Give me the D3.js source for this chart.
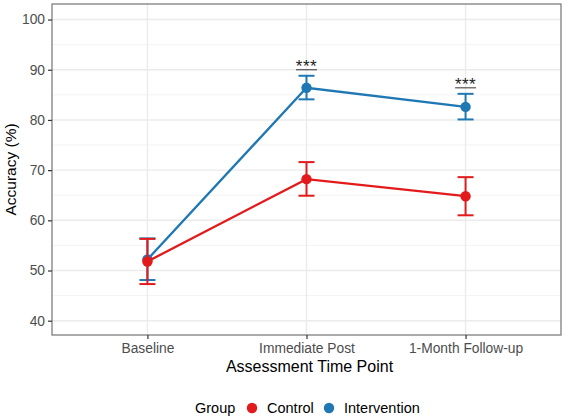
<!DOCTYPE html>
<html>
<head>
<meta charset="utf-8">
<script src="https://cdn.jsdelivr.net/npm/d3@7"></script>
<style>
  body { margin: 0; background: #fff; }
  text { font-family: "Liberation Sans", Arial, sans-serif; }
</style>
</head>
<body>
<div id="chart"></div>
<script>
"use strict"

// time points on the x axis
let timePoints = ["Baseline", "Immediate Post", "1-Month Follow-up"];
let groups = ["Control", "Intervention"];

// means and error bars
let controlMean = [51.8, 68.2, 64.8];
let controlLow = [47.3, 64.9, 61.0];
let controlHigh = [56.3, 71.6, 68.6];

let interventionMean = [52.2, 86.4, 82.6];
let interventionLow = [48.1, 84.1, 80.1];
let interventionHigh = [56.4, 88.8, 85.2];

// significance marks
let sigLabels = ["", "***", "***"];

let yTicks = [40, 50, 60, 70, 80, 90, 100];
let yMinor = [45, 55, 65, 75, 85, 95];

let colors = { Control: "#E31A1C", Intervention: "#1F78B4" };

let width = 567;
let height = 420;
let panel = { left: 52, right: 561, top: 4, bottom: 335 };

let svg = d3.select("#chart")
    .append("svg")
    .attr("width", width)
    .attr("height", height);

let x = d3.scalePoint()
    .domain(timePoints)
    .range([panel.left, panel.right])
    .padding(0.6);

let y = d3.scaleLinear()
    .domain([37.15, 103.1])
    .range([panel.bottom, panel.top]);

// grid
svg.append("g").selectAll("line")
    .data(yMinor)
    .join("line")
    .attr("x1", panel.left).attr("x2", panel.right)
    .attr("y1", d => y(d)).attr("y2", d => y(d))
    .attr("stroke", "#f3f3f3").attr("stroke-width", 1);

svg.append("g").selectAll("line")
    .data(yTicks)
    .join("line")
    .attr("x1", panel.left).attr("x2", panel.right)
    .attr("y1", d => y(d)).attr("y2", d => y(d))
    .attr("stroke", "#ebebeb").attr("stroke-width", 1.4);

svg.append("g").selectAll("line")
    .data(timePoints)
    .join("line")
    .attr("x1", d => x(d)).attr("x2", d => x(d))
    .attr("y1", panel.top).attr("y2", panel.bottom)
    .attr("stroke", "#ebebeb").attr("stroke-width", 1.4);

// series (intervention first so control sits on top at baseline)
let series = [
    { name: "Intervention", mean: interventionMean, low: interventionLow, high: interventionHigh },
    { name: "Control", mean: controlMean, low: controlLow, high: controlHigh }
];

let line = d3.line()
    .x((d, i) => x(timePoints[i]))
    .y(d => y(d));

series.forEach(s => {
    let g = svg.append("g");
    let col = colors[s.name];

    g.append("path")
        .attr("d", line(s.mean))
        .attr("fill", "none")
        .attr("stroke", col)
        .attr("stroke-width", 2.3);

    timePoints.forEach((t, i) => {
        let cx = x(t);
        let hw = 8;
        g.append("line")
            .attr("x1", cx).attr("x2", cx)
            .attr("y1", y(s.low[i])).attr("y2", y(s.high[i]))
            .attr("stroke", col).attr("stroke-width", 2);
        [s.low[i], s.high[i]].forEach(v => {
            g.append("line")
                .attr("x1", cx - hw).attr("x2", cx + hw)
                .attr("y1", y(v)).attr("y2", y(v))
                .attr("stroke", col).attr("stroke-width", 2);
        });
        g.append("circle")
            .attr("cx", cx).attr("cy", y(s.mean[i]))
            .attr("r", 5.2)
            .attr("fill", col);
    });
});

// significance stars over the intervention bars
timePoints.forEach((t, i) => {
    if (!sigLabels[i]) return;
    let top = y(interventionHigh[i]) - 6;
    svg.append("line")
        .attr("x1", x(t) - 10.5).attr("x2", x(t) + 10.5)
        .attr("y1", top).attr("y2", top)
        .attr("stroke", "#333").attr("stroke-width", 1);
    svg.append("text")
        .attr("x", x(t)).attr("y", top + 2.5)
        .attr("text-anchor", "middle")
        .attr("font-size", 17)
        .attr("letter-spacing", 0.5)
        .attr("fill", "#222")
        .text(sigLabels[i]);
});

// panel border
svg.append("rect")
    .attr("x", panel.left).attr("y", panel.top)
    .attr("width", panel.right - panel.left)
    .attr("height", panel.bottom - panel.top)
    .attr("fill", "none")
    .attr("stroke", "#7f7f7f")
    .attr("stroke-width", 1.3);

// axes
let yAxis = svg.append("g")
    .attr("transform", `translate(${panel.left},0)`)
    .call(d3.axisLeft(y).tickValues(yTicks).tickSize(4).tickPadding(3));
let xAxis = svg.append("g")
    .attr("transform", `translate(0,${panel.bottom})`)
    .call(d3.axisBottom(x).tickSize(4).tickPadding(4));

[yAxis, xAxis].forEach(a => {
    a.select(".domain").remove();
    a.selectAll(".tick line").attr("stroke", "#333").attr("stroke-width", 1.2);
    a.selectAll(".tick text")
        .attr("fill", "#4d4d4d")
        .attr("font-size", 13.8)
        .style("font-family", "Liberation Sans, Arial, sans-serif");
});

// axis titles
svg.append("text")
    .attr("x", (panel.left + panel.right) / 2 + 3)
    .attr("y", 372)
    .attr("text-anchor", "middle")
    .attr("font-size", 16)
    .attr("fill", "#000")
    .text("Assessment Time Point");

svg.append("text")
    .attr("transform", `translate(16,${(panel.top + panel.bottom) / 2}) rotate(-90)`)
    .attr("text-anchor", "middle")
    .attr("font-size", 15.5)
    .attr("fill", "#000")
    .text("Accuracy (%)");

// legend
let legend = svg.append("g");
legend.append("text")
    .attr("x", 195).attr("y", 413)
    .attr("font-size", 14.5)
    .text("Group");

let legendX = [252, 329];
groups.forEach((gname, i) => {
    legend.append("circle")
        .attr("cx", legendX[i]).attr("cy", 408)
        .attr("r", 5.2)
        .attr("fill", colors[gname]);
    legend.append("text")
        .attr("x", legendX[i] + 15).attr("y", 413)
        .attr("font-size", 14.5)
        .text(gname);
});
</script>
</body>
</html>
